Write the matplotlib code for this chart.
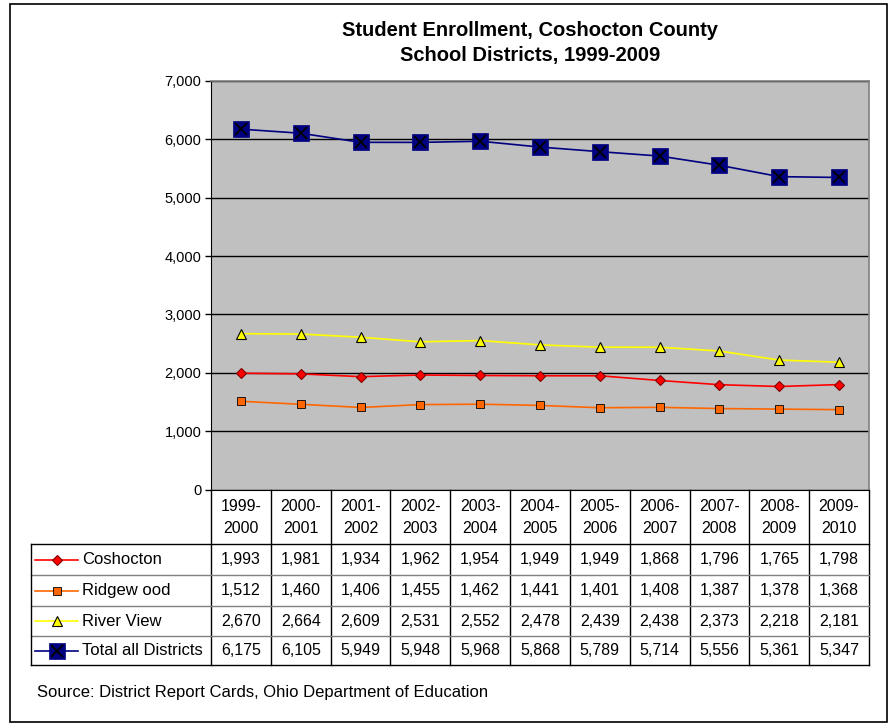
import matplotlib
matplotlib.use("Agg")
import matplotlib.pyplot as plt
from matplotlib.patches import Rectangle

plt.rcParams['font.family'] = ['Liberation Sans', 'DejaVu Sans']

years = ["1999-\n2000", "2000-\n2001", "2001-\n2002", "2002-\n2003", "2003-\n2004",
         "2004-\n2005", "2005-\n2006", "2006-\n2007", "2007-\n2008", "2008-\n2009", "2009-\n2010"]
series_names = ["Coshocton", "Ridgew ood", "River View", "Total all Districts"]
coshocton = [1993, 1981, 1934, 1962, 1954, 1949, 1949, 1868, 1796, 1765, 1798]
ridgewood = [1512, 1460, 1406, 1455, 1462, 1441, 1401, 1408, 1387, 1378, 1368]
river_view = [2670, 2664, 2609, 2531, 2552, 2478, 2439, 2438, 2373, 2218, 2181]
total = [6175, 6105, 5949, 5948, 5968, 5868, 5789, 5714, 5556, 5361, 5347]
yticks = [0, 1000, 2000, 3000, 4000, 5000, 6000, 7000]

W, H = 890, 723
fig = plt.figure(figsize=(W / 100, H / 100), dpi=100)

L, R, T, B = 211, 869, 81, 489.5
ax = fig.add_axes([L / W, 1 - B / H, (R - L) / W, (B - T) / H])
ax.set_facecolor("#C0C0C0")
x = list(range(len(years)))

styles = [
    dict(color="#FF0000", marker="D", markersize=5, markerfacecolor="#FF0000", markeredgecolor="#800000", markeredgewidth=0.8),
    dict(color="#FF6600", marker="s", markersize=6, markerfacecolor="#FF6600", markeredgecolor="#000000", markeredgewidth=0.6),
    dict(color="#FFFF00", marker="^", markersize=7, markerfacecolor="#FFFF00", markeredgecolor="#000000", markeredgewidth=0.8),
    dict(color="#000080", marker="s", markersize=12, markerfacecolor="#000080", markeredgecolor="#000080", markeredgewidth=0.5),
]
data = [coshocton, ridgewood, river_view, total]
for d, st in zip(data, styles):
    ax.plot(x, d, linewidth=1.2, zorder=3, **st)
ax.plot(x, total, linestyle="none", marker="x", markersize=9, color="black", markeredgewidth=1.3, zorder=4)

ax.set_xlim(-0.5, len(years) - 0.5)
ax.set_ylim(0, 7000)
ax.set_yticks(yticks)
ax.set_yticklabels([f"{v:,}" for v in yticks], fontsize=10.5)
ax.set_xticks([])
ax.yaxis.grid(True, color="black", linewidth=1)
ax.set_axisbelow(True)
ax.tick_params(axis="y", length=4, width=1, color="black", pad=3)
for s in ["top", "right"]:
    ax.spines[s].set_color("#808080")
    ax.spines[s].set_linewidth(1.2)
ax.spines["left"].set_color("black")
ax.spines["bottom"].set_color("black")

ov2 = fig.add_axes([0, 0, 1, 1], zorder=5)
ov2.set_xlim(0, W)
ov2.set_ylim(H, 0)
ov2.axis("off")
ov2.patch.set_alpha(0)

ov2.add_patch(Rectangle((10, 4), 877, 718, fill=False, edgecolor="black", linewidth=1.2))

ov2.text(530, 31, "Student Enrollment, Coshocton County", ha="center", va="center",
         fontsize=14.5, fontweight="bold")
ov2.text(530, 56, "School Districts, 1999-2009", ha="center", va="center",
         fontsize=14.5, fontweight="bold")

colw = (R - L) / len(years)
hdr_top, hdr_bot = B, 544
row_edges = [544, 575, 606, 636, 665]
tleft = 30.5

for i, lab in enumerate(years):
    cx = L + (i + 0.5) * colw
    ov2.text(cx, (hdr_top + hdr_bot) / 2 + 1, lab, ha="center", va="center", fontsize=11.5, linespacing=1.55)
for i in range(len(years) + 1):
    xx = L + i * colw
    ov2.plot([xx, xx], [hdr_top, row_edges[-1]], color="black", linewidth=1)
for y in row_edges:
    ov2.plot([tleft, R], [y, y], color="black" if y in (row_edges[0], row_edges[-1]) else "#808080", linewidth=1)
ov2.plot([tleft, tleft], [row_edges[0], row_edges[-1]], color="black", linewidth=1)

for r, (name, d, st) in enumerate(zip(series_names, data, styles)):
    cy = (row_edges[r] + row_edges[r + 1]) / 2
    ov2.plot([35, 78], [cy, cy], color=st["color"], linewidth=1.2)
    mst = {k: v for k, v in st.items() if k != "color"}
    if r == 3:
        mst["markersize"] = 11
    ov2.plot([56.5], [cy], linestyle="none", **mst)
    if r == 3:
        ov2.plot([56.5], [cy], linestyle="none", marker="x", markersize=8, color="black", markeredgewidth=1.3)
    ov2.text(82, cy, name, ha="left", va="center", fontsize=12)
    for i, v in enumerate(d):
        cx = L + (i + 0.5) * colw
        ov2.text(cx, cy, f"{v:,}", ha="center", va="center", fontsize=11.5)

ov2.text(37, 692, "Source: District Report Cards, Ohio Department of Education",
         ha="left", va="center", fontsize=12)

fig.savefig("out.png", dpi=100)
